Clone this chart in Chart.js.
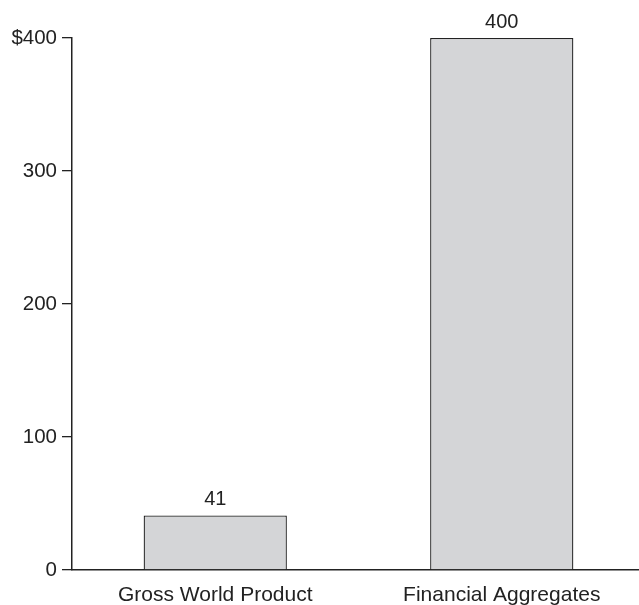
<!DOCTYPE html>
<html lang="en">
<head>
  <meta charset="UTF-8" />
  <title>Gross World Product vs Financial Aggregates</title>
  <script src="https://cdn.jsdelivr.net/npm/chart.js"></script>
  <style>
    body { margin: 0; background: #fff; overflow: hidden; }
    #wrap { width: 639px; height: 605px; overflow: hidden; }
  </style>
</head>
<body>
  <!-- canvas runs a few px past the right edge, as the x axis does in the original -->
  <div id="wrap"><canvas id="barChart" width="645" height="605"></canvas></div>

  <script>
const categories = ['Gross World Product', 'Financial Aggregates'];
const values = [41, 400];
const yTicks = [0, 100, 200, 300, 400];

const FONT = '"Liberation Sans", Arial, sans-serif';

// draws the value above each bar
const barLabels = {
  id: 'barLabels',
  afterDatasetsDraw(chart) {
    const ctx = chart.ctx;
    const meta = chart.getDatasetMeta(0);
    ctx.save();
    ctx.font = '20px ' + FONT;
    ctx.fillStyle = '#222';
    ctx.textAlign = 'center';
    ctx.textBaseline = 'alphabetic';
    meta.data.forEach((bar, i) => {
      ctx.fillText(values[i], bar.x, bar.y - 10);
    });
    ctx.restore();
  }
};

const ctx = document.getElementById('barChart').getContext('2d');
new Chart(ctx, {
  type: 'bar',
  data: {
    labels: categories,
    datasets: [{
      data: values,
      backgroundColor: '#d4d5d7',
      borderColor: '#222',
      borderWidth: 1.3,
      barPercentage: 1,
      categoryPercentage: 0.5
    }]
  },
  options: {
    responsive: false,
    animation: false,
    layout: { padding: { top: 38, right: 0, left: 0, bottom: 0 } },
    plugins: {
      legend: { display: false },
      tooltip: { enabled: false }
    },
    scales: {
      x: {
        grid: { display: false },
        border: { color: '#222', width: 1.5 },
        ticks: {
          color: '#222',
          padding: 5,
          font: { family: FONT, size: 21 }
        },
        afterFit: s => { s.height = 35; }
      },
      y: {
        min: 0,
        max: 400,
        afterBuildTicks: s => { s.ticks = yTicks.map(v => ({ value: v })); },
        grid: { drawOnChartArea: false, tickLength: 10, color: '#222', lineWidth: 1.3 },
        border: { color: '#222', width: 1.5 },
        ticks: {
          color: '#222',
          padding: 5,
          font: { family: FONT, size: 20.5 },
          callback: v => (v === 400 ? '$400' : v)
        },
        afterFit: s => { s.width = 72; }
      }
    }
  },
  plugins: [barLabels]
});
  </script>
</body>
</html>
